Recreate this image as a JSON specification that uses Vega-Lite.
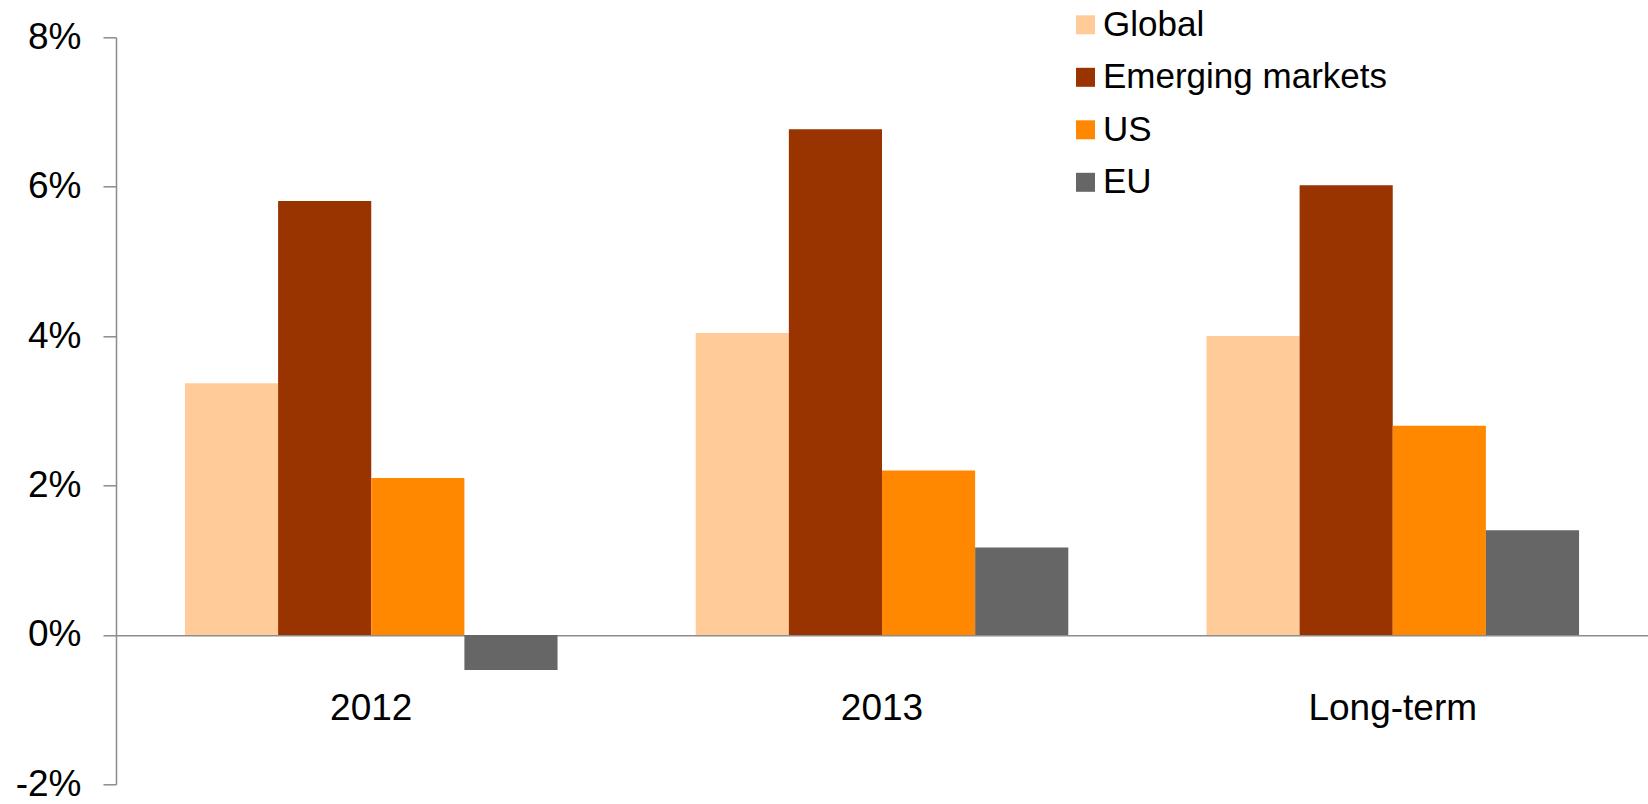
{
  "$schema": "https://vega.github.io/schema/vega-lite/v6.json",
  "autosize": {"type": "none"},
  "padding": {"left": 116, "top": 37.3, "right": 0, "bottom": 19.7},
  "width": 1532,
  "height": 747,
  "background": "white",
  "config": {
    "view": {"stroke": null},
    "font": "Liberation Sans",
    "axis": {"labelFont": "Liberation Sans", "labelColor": "#000000"},
    "legend": {"labelFont": "Liberation Sans"}
  },
  "data": {
    "values": [
      {"period": "2012", "region": "Global", "growth": 3.37},
      {"period": "2012", "region": "Emerging markets", "growth": 5.81},
      {"period": "2012", "region": "US", "growth": 2.10},
      {"period": "2012", "region": "EU", "growth": -0.47},
      {"period": "2013", "region": "Global", "growth": 4.04},
      {"period": "2013", "region": "Emerging markets", "growth": 6.77},
      {"period": "2013", "region": "US", "growth": 2.20},
      {"period": "2013", "region": "EU", "growth": 1.17},
      {"period": "Long-term", "region": "Global", "growth": 4.00},
      {"period": "Long-term", "region": "Emerging markets", "growth": 6.02},
      {"period": "Long-term", "region": "US", "growth": 2.80},
      {"period": "Long-term", "region": "EU", "growth": 1.40}
    ]
  },
  "mark": {"type": "bar", "strokeWidth": 0},
  "encoding": {
    "x": {
      "field": "period",
      "type": "nominal",
      "sort": ["2012", "2013", "Long-term"],
      "scale": {"paddingInner": 0.2705, "paddingOuter": 0.135},
      "axis": {
        "title": null,
        "orient": "bottom",
        "offset": -149,
        "labelAngle": 0,
        "labelFontSize": 37,
        "labelPadding": 55,
        "ticks": false,
        "domain": true,
        "domainColor": "#8c8c8c",
        "domainWidth": 1.5
      }
    },
    "xOffset": {
      "field": "region",
      "type": "nominal",
      "sort": ["Global", "Emerging markets", "US", "EU"],
      "scale": {"paddingInner": 0, "paddingOuter": 0}
    },
    "y": {
      "field": "growth",
      "type": "quantitative",
      "scale": {"domain": [-2, 8], "nice": false, "zero": false},
      "axis": {
        "title": null,
        "values": [-2, 0, 2, 4, 6, 8],
        "labelExpr": "datum.value + '%'",
        "labelFontSize": 37,
        "labelPadding": 22,
        "tickSize": 13,
        "tickColor": "#8c8c8c",
        "tickWidth": 1.5,
        "domainColor": "#8c8c8c",
        "domainWidth": 1.5,
        "grid": false
      }
    },
    "color": {
      "field": "region",
      "type": "nominal",
      "sort": ["Global", "Emerging markets", "US", "EU"],
      "scale": {
        "domain": ["Global", "Emerging markets", "US", "EU"],
        "range": ["#FFCC99", "#993300", "#FF8800", "#666666"]
      },
      "legend": {
        "title": null,
        "orient": "none",
        "legendX": 952,
        "legendY": -30,
        "padding": 0,
        "symbolType": "square",
        "symbolSize": 361,
        "symbolStrokeWidth": 0,
        "labelFontSize": 35,
        "labelOffset": 0,
        "rowPadding": 16.5,
        "labelLimit": 400
      }
    }
  }
}
